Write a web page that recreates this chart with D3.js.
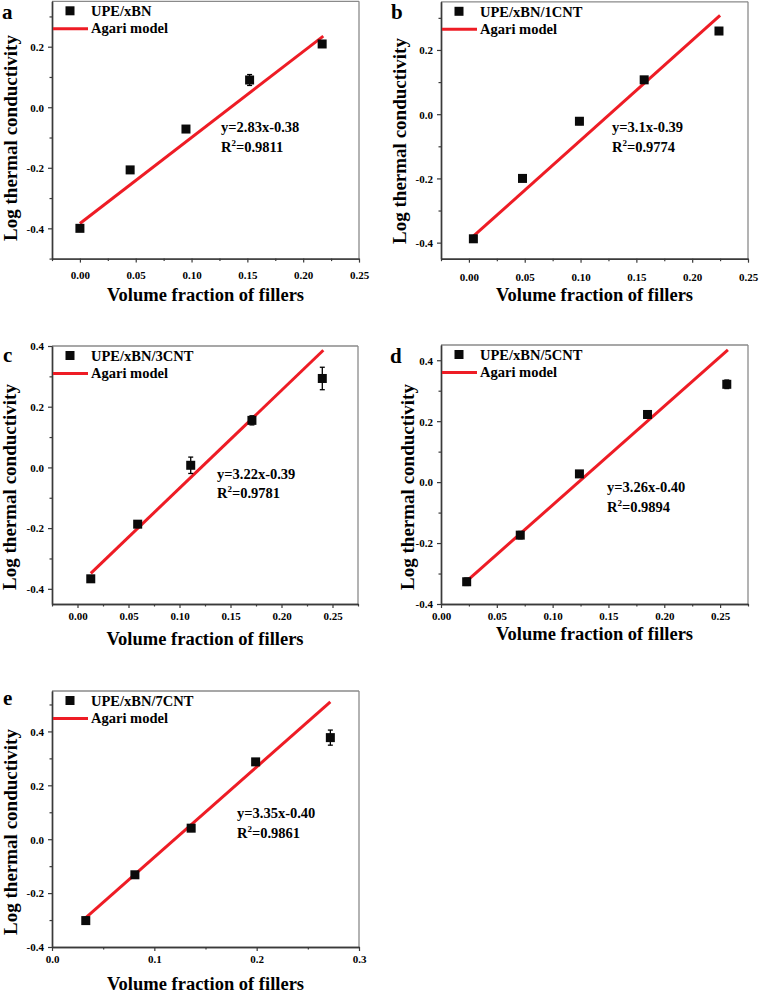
<!DOCTYPE html>
<html><head><meta charset="utf-8">
<script src="https://cdn.jsdelivr.net/npm/d3@7"></script>
<style>
body{margin:0;background:#fff}
svg{display:block}
text{font-family:"Liberation Serif","Times New Roman",serif;font-weight:bold;fill:#000}
.tick text{font-family:"Liberation Serif","Times New Roman",serif !important;font-weight:bold !important;font-size:11px !important;fill:#000 !important}
</style>
</head><body>
<svg id="chart" width="759" height="995"></svg>
<script>
// ---------- data ----------
const panelLetters = ["a","b","c","d","e"];
const seriesNames = ["UPE/xBN","UPE/xBN/1CNT","UPE/xBN/3CNT","UPE/xBN/5CNT","UPE/xBN/7CNT"];
const modelName = "Agari model";
const fitEquations = ["y=2.83x-0.38","y=3.1x-0.39","y=3.22x-0.39","y=3.26x-0.40","y=3.35x-0.40"];
const fitR2 = ["0.9811","0.9774","0.9781","0.9894","0.9861"];
const xTitle = "Volume fraction of fillers";
const yTitle = "Log thermal conductivity";

const volumeA = [0.000, 0.045, 0.095, 0.152, 0.217];
const logKA   = [-0.400, -0.207, -0.072, 0.090, 0.209];
const errA    = [0.010, 0.008, 0.008, 0.018, 0.010];
const volumeB = [0.004, 0.048, 0.099, 0.157, 0.224];
const logKB   = [-0.388, -0.200, -0.022, 0.107, 0.259];
const errB    = [0.010, 0.008, 0.010, 0.010, 0.010];
const volumeC = [0.013, 0.059, 0.111, 0.171, 0.240];
const logKC   = [-0.367, -0.187, 0.007, 0.155, 0.293];
const errC    = [0.010, 0.010, 0.027, 0.015, 0.037];
const volumeD = [0.023, 0.071, 0.124, 0.185, 0.256];
const logKD   = [-0.327, -0.174, 0.027, 0.222, 0.321];
const errD    = [0.012, 0.012, 0.010, 0.012, 0.014];
const volumeE = [0.033, 0.081, 0.136, 0.199, 0.272];
const logKE   = [-0.302, -0.132, 0.041, 0.287, 0.377];
const errE    = [0.012, 0.010, 0.012, 0.012, 0.028];

// Agari model line end points (x, y)
const fitXA = [0.000, 0.218], fitYA = [-0.384, 0.235];
const fitXB = [0.004, 0.225], fitYB = [-0.380, 0.308];
const fitXC = [0.013, 0.241], fitYC = [-0.349, 0.386];
const fitXD = [0.023, 0.257], fitYD = [-0.325, 0.434];
const fitXE = [0.032, 0.272], fitYE = [-0.295, 0.510];

const xTickLabelsABCD = ["0.00","0.05","0.10","0.15","0.20","0.25"];
const xTickLabelsE = ["0.0","0.1","0.2","0.3"];
const yTickLabelsAB = ["-0.4","-0.2","0.0","0.2"];
const yTickLabelsCDE = ["-0.4","-0.2","0.0","0.2","0.4"];

// ---------- layout ----------
const panels = [
  {vol:volumeA, k:logKA, err:errA, fx:fitXA, fy:fitYA, xt:xTickLabelsABCD, yt:yTickLabelsAB,
   l:52, r:359, t:1.3, b:258.6, xd:[-0.025,0.25], yd:[-0.5,0.35], xMinor:0.025,
   xLabOff:20, xTitleY:301, yTitleX:16.5, yTitleY:138, letter:[2,19], eq:[221,132,152]},
  {vol:volumeB, k:logKB, err:errB, fx:fitXB, fy:fitYB, xt:xTickLabelsABCD, yt:yTickLabelsAB,
   l:441, r:748, t:1.8, b:258.7, xd:[-0.025,0.25], yd:[-0.45,0.35], xMinor:0.025,
   xLabOff:22, xTitleY:301, yTitleX:405.5, yTitleY:141, letter:[391,19], eq:[612,132,152]},
  {vol:volumeC, k:logKC, err:errC, fx:fitXC, fy:fitYC, xt:xTickLabelsABCD, yt:yTickLabelsCDE,
   l:52, r:358, t:346, b:604, xd:[-0.025,0.275], yd:[-0.45,0.4], xMinor:0.025,
   xLabOff:16, xTitleY:645, yTitleX:16, yTitleY:487, letter:[3,362], eq:[217,479,498]},
  {vol:volumeD, k:logKD, err:errD, fx:fitXD, fy:fitYD, xt:xTickLabelsABCD, yt:yTickLabelsCDE,
   l:441, r:748, t:345, b:604, xd:[0,0.275], yd:[-0.4,0.45], xMinor:0.025,
   xLabOff:16, xTitleY:640, yTitleX:413.5, yTitleY:487, letter:[390,363], eq:[607,492,512]},
  {vol:volumeE, k:logKE, err:errE, fx:fitXE, fy:fitYE, xt:xTickLabelsE, yt:yTickLabelsCDE,
   l:52, r:359, t:691, b:947, xd:[0,0.3], yd:[-0.4,0.55], xMinor:0.05,
   xLabOff:16, xTitleY:990, yTitleX:17, yTitleY:832, letter:[3,705], eq:[237,818,838]}
];

const svg = d3.select("#chart");
svg.append("rect").attr("width",759).attr("height",995).attr("fill","#fff");
const RED = "#ee1c25";
const AX = "#3a3a3a";

panels.forEach((p, i) => {
  const g = svg.append("g");
  const x = d3.scaleLinear().domain(p.xd).range([p.l, p.r]);
  const y = d3.scaleLinear().domain(p.yd).range([p.b, p.t]);

  const xMajor = p.xt.map(Number);
  const yMajor = p.yt.map(Number);
  const xMinorVals = d3.range(Math.ceil(p.xd[0]/p.xMinor - 1e-6), Math.floor(p.xd[1]/p.xMinor + 1e-6) + 1)
      .map(v => +(v*p.xMinor).toFixed(4)).filter(v => !xMajor.some(m => Math.abs(m - v) < 1e-6));
  const yMinorVals = d3.range(Math.ceil(p.yd[0]/0.1 - 1e-6), Math.floor(p.yd[1]/0.1 + 1e-6) + 1)
      .map(v => +(v*0.1).toFixed(4)).filter(v => !yMajor.some(m => Math.abs(m - v) < 1e-6));

  // frame (top/right lighter)
  g.append("line").attr("x1",p.l).attr("x2",p.r).attr("y1",p.t).attr("y2",p.t).attr("stroke","#8a8a8a").attr("stroke-width",1.3);
  g.append("line").attr("x1",p.r).attr("x2",p.r).attr("y1",p.t).attr("y2",p.b).attr("stroke","#8a8a8a").attr("stroke-width",1.3);

  const xa = g.append("g").attr("transform",`translate(0,${p.b})`)
    .call(d3.axisBottom(x).tickValues(xMajor).tickFormat((d,j)=>p.xt[j]).tickSize(4).tickSizeOuter(0));
  const xm = g.append("g").attr("transform",`translate(0,${p.b})`)
    .call(d3.axisBottom(x).tickValues(xMinorVals).tickFormat("").tickSize(2.5).tickSizeOuter(0));
  const ya = g.append("g").attr("transform",`translate(${p.l},0)`)
    .call(d3.axisLeft(y).tickValues(yMajor).tickFormat((d,j)=>p.yt[j]).tickSize(4).tickSizeOuter(0));
  const ym = g.append("g").attr("transform",`translate(${p.l},0)`)
    .call(d3.axisLeft(y).tickValues(yMinorVals).tickFormat("").tickSize(2.5).tickSizeOuter(0));
  [xa,xm,ya,ym].forEach(a => {
    a.attr("font-family",null).attr("font-size",null);
    a.select(".domain").attr("stroke",AX).attr("stroke-width",1.4);
    a.selectAll(".tick line").attr("stroke",AX).attr("stroke-width",1.2);
  });
  xa.selectAll(".tick text").attr("dy",null).attr("y",p.xLabOff);
  ya.selectAll(".tick text").attr("x",-8).attr("dy","0.35em");

  // model line
  g.append("line")
    .attr("x1",x(p.fx[0])).attr("y1",y(p.fy[0]))
    .attr("x2",x(p.fx[1])).attr("y2",y(p.fy[1]))
    .attr("stroke",RED).attr("stroke-width",3);

  // error bars + squares
  const pts = p.vol.map((v,j)=>({x:v, y:p.k[j], e:p.err[j]}));
  const eb = g.append("g");
  pts.forEach(d => {
    const cx = x(d.x), y1 = y(d.y - d.e), y2 = y(d.y + d.e);
    eb.append("line").attr("x1",cx).attr("x2",cx).attr("y1",y1).attr("y2",y2).attr("stroke","#000").attr("stroke-width",1.3);
    eb.append("line").attr("x1",cx-2.5).attr("x2",cx+2.5).attr("y1",y1).attr("y2",y1).attr("stroke","#000").attr("stroke-width",1.3);
    eb.append("line").attr("x1",cx-2.5).attr("x2",cx+2.5).attr("y1",y2).attr("y2",y2).attr("stroke","#000").attr("stroke-width",1.3);
  });
  g.selectAll("rect.pt").data(pts).enter().append("rect").attr("class","pt")
    .attr("x",d=>x(d.x)-4.5).attr("y",d=>y(d.y)-4.5).attr("width",9).attr("height",9).attr("fill","#0a0a0a");

  // legend
  g.append("rect").attr("x",p.l+18-4.5).attr("y",p.t+9.5-4.5).attr("width",9).attr("height",9).attr("fill","#0a0a0a");
  g.append("text").attr("x",p.l+39).attr("y",p.t+15).style("font-size","14.5px").text(seriesNames[i]);
  g.append("line").attr("x1",p.l+1).attr("x2",p.l+36).attr("y1",p.t+27.5).attr("y2",p.t+27.5).attr("stroke",RED).attr("stroke-width",3);
  g.append("text").attr("x",p.l+39).attr("y",p.t+32).style("font-size","14.5px").text(modelName);

  // equation
  g.append("text").attr("x",p.eq[0]).attr("y",p.eq[1]).style("font-size","14.5px").text(fitEquations[i]);
  const r2 = g.append("text").attr("x",p.eq[0]).attr("y",p.eq[2]).style("font-size","14.5px");
  r2.append("tspan").text("R");
  r2.append("tspan").attr("dy",-6).style("font-size","9px").text("2");
  r2.append("tspan").attr("dy",6).text("=" + fitR2[i]);

  // titles
  g.append("text").attr("x",(p.l+p.r)/2).attr("y",p.xTitleY).attr("text-anchor","middle")
    .style("font-size","18.5px").text(xTitle);
  g.append("text").attr("transform",`translate(${p.yTitleX},${p.yTitleY}) rotate(-90)`)
    .attr("text-anchor","middle").style("font-size","19px").text(yTitle);

  // panel letter
  g.append("text").attr("x",p.letter[0]).attr("y",p.letter[1]).style("font-size","21px").text(panelLetters[i]);
});
</script>
</body></html>
